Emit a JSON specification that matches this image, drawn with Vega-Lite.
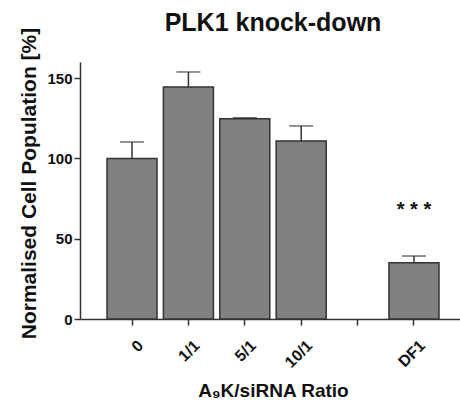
{
  "$schema": "https://vega.github.io/schema/vega-lite/v6.json",
  "width": 386,
  "height": 257,
  "padding": {"left": 18, "top": 10, "right": 0, "bottom": 0},
  "title": {"text": "PLK1 knock-down", "fontSize": 25, "fontWeight": "bold", "font": "Liberation Sans", "color": "#111", "anchor": "middle", "frame": "group", "offset": -20},
  "data": {"values": [
    {"cat": "0", "value": 100, "upper": 110.2, "sig": ""},
    {"cat": "1/1", "value": 144.5, "upper": 153.8, "sig": ""},
    {"cat": "5/1", "value": 124.7, "upper": 125.3, "sig": ""},
    {"cat": "10/1", "value": 110.8, "upper": 120.2, "sig": ""},
    {"cat": "DF1", "value": 35, "upper": 39.2, "sig": "* * *"}
  ]},
  "encoding": {
    "x": {"field": "cat", "type": "nominal", "sort": null,
      "scale": {"domain": ["0", "1/1", "5/1", "10/1", " ", "DF1"], "paddingInner": 0.113, "paddingOuter": 0.479},
      "axis": {"title": "A₉K/siRNA Ratio", "labelAngle": -45, "labelFontSize": 16, "labelFontWeight": "bold", "labelFont": "Liberation Sans", "labelColor": "#111",
        "titleFontSize": 19, "titleFontWeight": "bold", "titleFont": "Liberation Sans", "titleColor": "#111", "titlePadding": 11,
        "domainColor": "#333", "domainWidth": 1.5, "tickColor": "#333", "tickWidth": 1.5, "tickSize": 6, "labelPadding": 12, "labelOffset": 3}}
  },
  "layer": [
    {"mark": {"type": "bar", "fill": "#808080", "stroke": "#333", "strokeWidth": 1.5},
     "encoding": {"y": {"field": "value", "type": "quantitative",
        "scale": {"domain": [0, 160], "nice": false},
        "axis": {"title": "Normalised Cell Population [%]", "values": [0, 50, 100, 150], "grid": false,
          "labelFontSize": 15, "labelFontWeight": "bold", "labelFont": "Liberation Sans", "labelColor": "#111", "labelPadding": 2,
          "titleFontSize": 21, "titleFontWeight": "bold", "titleFont": "Liberation Sans", "titleColor": "#111", "titlePadding": 7, "titleY": 121,
          "domainColor": "#333", "domainWidth": 1.5, "tickColor": "#333", "tickWidth": 1.5, "tickSize": 6}}}},
    {"mark": {"type": "rule", "color": "#333", "strokeWidth": 1.5},
     "encoding": {"y": {"field": "value", "type": "quantitative"}, "y2": {"field": "upper"}}},
    {"mark": {"type": "tick", "color": "#333", "thickness": 1.5, "size": 24, "orient": "horizontal"},
     "encoding": {"y": {"field": "upper", "type": "quantitative"}}},
    {"mark": {"type": "text", "fontSize": 20, "fontWeight": "bold", "font": "Liberation Sans", "color": "#111", "dy": -46, "baseline": "middle"},
     "encoding": {"y": {"field": "upper", "type": "quantitative"}, "text": {"field": "sig"}}}
  ],
  "config": {"view": {"stroke": null}}
}
